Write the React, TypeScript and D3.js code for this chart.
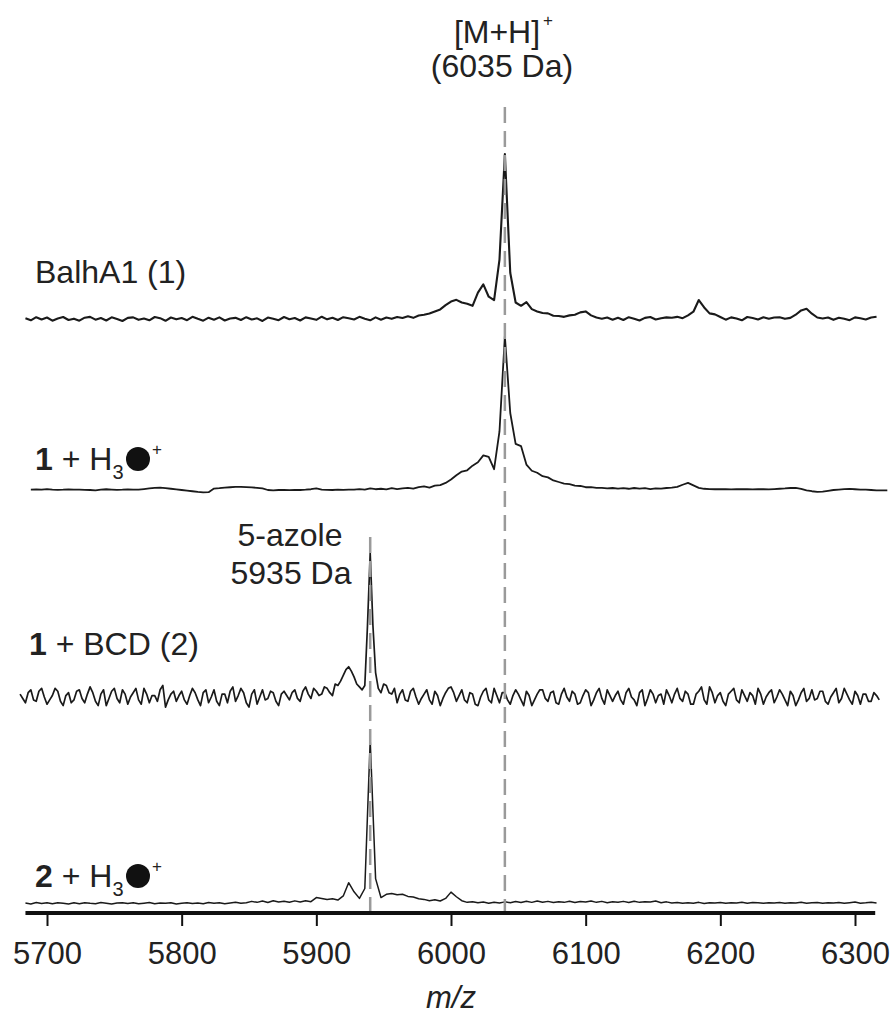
import React, { useEffect, useRef } from 'react';
import * as d3 from 'd3';

// spectra as relative intensity (main peak = 100), sampled every `step` Da
const balhA1Start = 5684; // step 4, one row = 40 Da
const balhA1 = [
  0.4, -0.8, 1.1, -0.3, 0.9, -1.0, 0.3, 1.2, -0.6, 0.2,
  -1.0, 0.8, 1.3, -0.4, 0.6, -0.9, 1.0, 0.0, -1.2, 0.7,
  1.0, -0.5, 0.3, -0.8, 1.2, 0.5, -1.1, 0.9, -0.2, 0.6,
  -0.7, 1.3, 0.1, -1.0, 0.8, -0.4, 1.0, -0.9, 0.3, 0.7,
  -0.6, 1.1, -0.3, 0.4, -1.2, 0.9, 0.2, -0.7, 1.2, -0.1,
  0.6, -0.9, 1.0, 0.3, -0.5, 1.4, -0.2, 0.8, -0.6, 1.1,
  0.4, -0.3, 1.3, 0.2, -0.8, 1.0, -0.4, 0.9, 0.1, 1.2,
  0.6, 1.6, 0.7, 2.1, 2.6, 3.3, 4.6, 5.8, 8.4, 10.6,
  11.6, 10.0, 9.2, 8.0, 16.0, 21.0, 13.5, 11.5, 36.0, 100,
  28.0, 10.0, 8.0, 10.2, 6.0, 4.6, 3.6, 3.4, 2.0, 1.8,
  1.3, 2.2, 2.6, 4.0, 4.6, 2.2, 0.9, 0.2, 0.9, -0.4,
  0.8, -0.6, 1.1, 0.2, -0.9, 0.7, 1.2, -0.3, 0.5, 1.0,
  0.8, 1.3, 0.5, 2.2, 4.4, 11.5, 7.0, 3.4, 2.8, 1.2,
  -0.4, 1.0, 0.3, -0.8, 1.2, 0.6, -0.3, 1.1, 0.2, 0.9,
  1.1, 0.1, 0.7, 2.6, 5.2, 6.2, 3.2, 0.9, 0.3, 0.9,
  -0.5, 0.8, 0.2, -0.7, 1.0, 0.4, -0.3, 0.9, 1.4,
];

const h3oStart = 5688; // step 4
const h3o = [
  0.3, 0.4, 0.2, 0.6, 0.3, 0.1, 0.2, 0.4, 0.3, 0.2,
  0.1, 0.0, -0.2, 0.2, 0.5, 0.3, 0.1, 0.2, 0.4, 0.2,
  0.2, 0.6, 1.0, 1.4, 1.5, 1.2, 0.8, 0.4, 0.0, -0.4,
  -0.8, -1.2, -1.5, -1.4, 0.9, 1.2, 1.6, 1.8, 2.0, 2.0,
  1.9, 1.7, 1.4, 1.0, 0.0, -0.2, 0.0, 0.1, -0.1, 0.0,
  0.0, 0.2, 0.5, 1.0, 0.3, 0.1, 0.0, 0.2, 0.1, 0.3,
  0.2, 0.6, 0.3, 1.0, 0.5, 0.8, 0.4, 1.2, 0.6, 1.0,
  1.4, 0.9, 1.8, 2.4, 1.6, 2.8, 3.2, 4.6, 6.8, 9.6,
  12.0, 12.8, 15.8, 18.0, 22.5, 21.5, 13.5, 38.0, 100, 50.0,
  30.0, 28.5, 16.5, 12.5, 11.2, 9.0, 8.2, 6.2, 5.2, 4.2,
  3.8, 2.8, 2.6, 1.8, 1.8, 1.4, 1.4, 1.0, 1.3, 0.9,
  1.2, 0.8, 1.3, 0.9, 1.2, 0.6, 1.1, 0.9, 1.3, 1.5,
  2.0, 3.4, 4.6, 3.0, 1.4, 0.8, 0.6, 0.5, 0.6, 0.5,
  0.4, 0.5, 0.6, 0.5, 0.4, 0.6, 0.5, 0.4, 0.6, 0.8,
  1.0, 1.3, 1.4, 0.8, -0.2, -0.8, -1.2, -1.0, -0.5, 0.0,
  0.3, 0.6, 0.7, 0.5, 0.3, 0.2, 0.0, -0.2, -0.3, -0.2,
];

const bcdStart = 5680; // step 2, one row = 40 Da
const bcd = [
  2, -1, -4, 3, 5, -2, -3, 4, 6, 0, -5, -2, 1, 6, 4, -3, -6, 1, 3, -4,
  -2, 4, 5, -1, -4, 2, 7, 3, -3, -6, 2, 5, -6, -1, 4, 6, -1, -4, 5, 2,
  -5, 0, 3, 6, -2, -5, 6, 2, -4, 1, 1, -3, 5, 8, -7, -2, 2, 4, -3, 1,
  4, -2, -5, 1, 6, 3, -2, -6, 3, 5, -4, 0, 5, -3, -6, 2, 2, -4, 4, 7,
  -3, 1, 6, 3, -4, -7, 2, 5, -5, 0, 5, -2, -1, 4, 3, -3, -6, 2, 4, 1,
  -2, 3, 5, -1, -3, 4, 7, 2, -1, 6, 4, 1, 2, 7, 6, 3, 1, 9, 8, 11,
  15, 19, 21, 18, 14, 9, 7, 5, 8, 50, 100, 50, 17, 6, 3, 9, 8, 3, 2, 6,
  -4, 2, 5, -2, -3, 4, 6, 0, -5, -1, 2, 5, -2, -5, 4, 1, -6, -1, 3, 6,
  7, 3, -3, 1, 5, -2, -4, 3, 2, -5, -6, 0, 4, 6, -2, -4, 6, 1, -4, 3,
  3, -2, -5, 1, 5, 2, -2, -6, 4, 1, -6, -2, 2, 5, 5, -1, -3, 3, 4, -4,
  -5, 2, 6, 0, -3, 4, 2, -5, -4, 1, 5, 3, -6, -2, 3, 6, -1, -5, 5, 1,
  -3, 1, 4, -2, -5, 3, 6, 0, -2, -6, 3, 5, -6, -1, 5, 2, -4, 1, 2, -5,
  5, 1, -4, 2, 6, -1, -3, 4, 2, -5, -5, 2, 4, 7, -2, -5, 7, 3, -4, 1,
  3, -3, -6, 2, 4, 6, -2, -4, 5, 1, -3, 3, 1, -5, 6, 2, -5, 0, 3, 5,
  -4, 0, 5, 2, -2, -6, 4, 1, -6, -2, 3, 6, -3, -1, 5, -2, -1, 4, 4, -3,
  -5, 0, 3, 6, -4, -1, 6, 2, -2, -5, 4, 1, -5, 2, 2, -3, -3, 3, 1, -2,
];

const azoleH3oStart = 5684; // step 4
const azoleH3o = [
  1.2, 0.6, 1.5, 0.9, 1.3, 0.7, 1.4, 1.0, 0.6, 1.3,
  0.8, 1.4, 1.0, 0.7, 1.5, 1.1, 0.6, 1.2, 1.4, 0.9,
  1.3, 0.7, 1.1, 1.5, 0.8, 1.2, 1.0, 1.4, 0.6, 1.1,
  1.4, 0.9, 1.2, 0.7, 1.5, 1.0, 1.3, 0.8, 1.2, 1.6,
  1.0, 1.4, 2.2, 1.6, 2.4, 1.5, 2.6, 1.8, 2.3, 1.7,
  2.5, 1.8, 2.6, 2.0, 4.5, 4.0, 3.4, 3.8, 3.0, 5.5,
  13.5, 8.0, 4.0, 10.0, 100, 16.0, 4.5, 6.5, 7.0, 6.2,
  6.5, 5.2, 4.8, 3.8, 3.4, 2.6, 3.2, 2.4, 4.0, 7.8,
  5.0, 2.6, 1.6, 2.0, 1.3, 1.8, 1.1, 1.7, 1.2, 1.9,
  1.4, 2.1, 1.5, 2.3, 1.6, 2.4, 1.7, 2.2, 1.5, 2.0,
  1.6, 2.3, 1.5, 2.1, 1.8, 2.4, 1.6, 2.2, 1.4, 2.0,
  1.7, 2.2, 1.5, 2.3, 1.6, 2.0, 1.8, 2.4, 1.4, 1.9,
  1.2, 1.5, 1.0, 1.3, 1.1, 1.6, 0.9, 1.4, 1.2, 1.5,
  1.0, 1.4, 1.2, 1.6, 1.1, 1.5, 1.3, 1.0, 1.4, 1.2,
  1.5, 1.1, 1.4, 1.2, 1.6, 1.0, 1.3, 1.5, 1.1, 1.4,
  1.2, 1.5, 1.0, 1.4, 1.8, 1.1, 1.3, 1.6, 1.2,
];

const tickValues = [5700, 5800, 5900, 6000, 6100, 6200, 6300];
const markerMz = [6040, 5940]; // [M+H]+ and 5-azole guide lines

const FONT = 'Liberation Sans, Arial, Helvetica, sans-serif';
const W = 895;
const H = 1015;
const AXIS_Y = 913;
const LABEL = 32;

const x = d3.scaleLinear().domain([5700, 6300]).range([47, 855]);

// pixel baseline / peak top of each stacked trace
const traces = [
  { start: balhA1Start, step: 4, values: balhA1, base: 319, top: 154, width: 2.1 },
  { start: h3oStart, step: 4, values: h3o, base: 490, top: 336, width: 1.8 },
  { start: bcdStart, step: 2, values: bcd, base: 697, top: 553, width: 1.7 },
  { start: azoleH3oStart, step: 4, values: azoleH3o, base: 905, top: 740, width: 1.5 },
];

const H3Label = ({ lead, y }: { lead: string; y: number }) => (
  <g>
    <text x={35} y={y} fontSize={LABEL} fill="#222">
      <tspan fontWeight="bold">{lead}</tspan>
      <tspan> + H</tspan>
      <tspan fontSize={20} dy={9}>3</tspan>
    </text>
    <circle cx={138} cy={y - 11} r={12} fill="#111" />
    <text x={152} y={y - 15} fontSize={17} fill="#222">+</text>
  </g>
);

export default function App() {
  const axisRef = useRef<SVGGElement>(null);

  useEffect(() => {
    const g = d3.select(axisRef.current);
    g.selectAll('*').remove();
    g.call(
      d3.axisBottom(x).tickValues(tickValues).tickSize(13).tickPadding(16).tickFormat(d3.format('d'))
    );
    g.select('.domain').remove();
    g.selectAll('.tick line').attr('stroke', '#111').attr('stroke-width', 2);
    g.selectAll('.tick text')
      .attr('fill', '#222')
      .style('font-size', '31px')
      .style('font-family', FONT);
  }, []);

  return (
    <svg
      width={W}
      height={H}
      style={{ position: 'absolute', left: 0, top: 0, background: '#fff' }}
      fontFamily={FONT}
    >
      {traces.map((t, i) => {
        const y = d3.scaleLinear().domain([0, 100]).range([t.base, t.top]);
        const line = d3
          .line<number>()
          .x((_, j) => x(t.start + j * t.step))
          .y((v) => y(v));
        return (
          <path
            key={i}
            d={line(t.values) || ''}
            fill="none"
            stroke="#1a1a1a"
            strokeWidth={t.width}
            strokeLinejoin="round"
          />
        );
      })}

      {/* guide lines */}
      <line x1={x(markerMz[0])} x2={x(markerMz[0])} y1={107} y2={AXIS_Y}
        stroke="#9a9a9a" strokeWidth={2.5} strokeDasharray="16,8" />
      <line x1={x(markerMz[1])} x2={x(markerMz[1])} y1={537} y2={AXIS_Y}
        stroke="#9a9a9a" strokeWidth={2.5} strokeDasharray="16,8" />

      {/* axis */}
      <line x1={x(5684)} x2={x(6315)} y1={AXIS_Y} y2={AXIS_Y} stroke="#111" strokeWidth={4} />
      <g ref={axisRef} transform={`translate(0,${AXIS_Y})`} />
      <text x={451} y={1008} fontSize={31} fontStyle="italic" textAnchor="middle" fill="#222">m/z</text>

      {/* annotations */}
      <text x={497} y={43} fontSize={LABEL} textAnchor="middle" fill="#222">[M+H]</text>
      <text x={543} y={26} fontSize={17} fill="#222">+</text>
      <text x={502} y={77} fontSize={LABEL} textAnchor="middle" fill="#222">(6035 Da)</text>
      <text x={290} y={546} fontSize={LABEL} textAnchor="middle" fill="#222">5-azole</text>
      <text x={291} y={584} fontSize={LABEL} textAnchor="middle" fill="#222">5935 Da</text>

      {/* trace labels */}
      <text x={35} y={283} fontSize={LABEL} fill="#222">BalhA1 (1)</text>
      <H3Label lead="1" y={470} />
      <text x={29} y={655} fontSize={LABEL} fill="#222">
        <tspan fontWeight="bold">1</tspan>
        <tspan> + BCD (2)</tspan>
      </text>
      <H3Label lead="2" y={887} />
    </svg>
  );
}
